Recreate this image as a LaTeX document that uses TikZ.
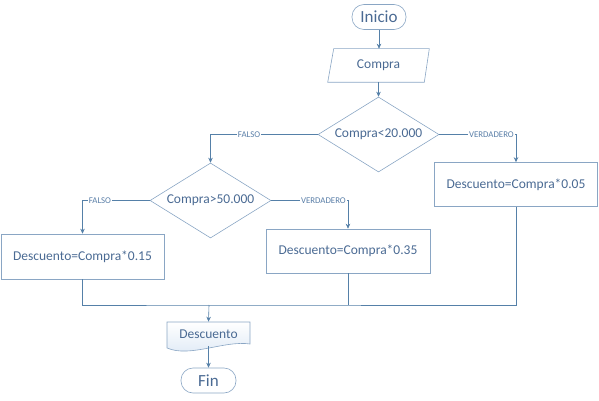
\documentclass[tikz,border=0pt]{standalone}
\usepackage{fontspec}
\setmainfont{Carlito}
\usetikzlibrary{shapes.geometric,arrows.meta}
\definecolor{edgecol}{HTML}{8AA6C4}
\definecolor{linecol}{HTML}{5580A8}
\definecolor{txtcol}{HTML}{4A6A93}
\definecolor{lblcol}{HTML}{5A7FA8}
\definecolor{docfill}{HTML}{DCE8F5}
\tikzset{
  base/.style={draw=edgecol, line width=0.6pt, text=txtcol, font=\fontsize{13.5}{15}\selectfont, inner sep=0pt},
  termbox/.style={base, rectangle, rounded corners=12pt, font=\fontsize{17}{19}\selectfont},
  procbox/.style={base, rectangle},
  decbox/.style={base, diamond, aspect=1.6},
  conn/.style={draw=linecol, line width=0.6pt},
  arr/.style={conn, -{Stealth[length=5pt,width=4.5pt]}},
  lbl/.style={fill=white, text=lblcol, font=\fontsize{8.8}{9}\selectfont, inner sep=0.8pt}
}
\begin{document}
\begin{tikzpicture}[x=1pt,y=-1pt]
\useasboundingbox (0,0) rectangle (599,401);
% nodes
\node[termbox, minimum width=54pt, minimum height=25pt] (ini) at (379,17) {Inicio};
\node[base, draw=none, minimum width=101pt, minimum height=33pt] (cmp) at (378.5,65.5) {Compra};
\draw[edgecol, line width=0.6pt] ([xshift=6pt]cmp.north west) -- (cmp.north east) -- ([xshift=-5pt]cmp.south east) -- (cmp.south west) -- cycle;
\node[decbox, minimum width=121pt, minimum height=75pt] (d1) at (378.5,134.5) {Compra<20.000};
\node[decbox, minimum width=121pt, minimum height=75pt] (d2) at (210.5,200.5) {Compra>50.000};
\node[procbox, minimum width=163pt, minimum height=44pt] (b3) at (516,184.5) {Descuento=Compra*0.05};
\node[procbox, minimum width=163pt, minimum height=45pt] (b1) at (82.5,256.5) {Descuento=Compra*0.15};
\node[procbox, minimum width=164pt, minimum height=44pt] (b2) at (348,251) {Descuento=Compra*0.35};
% document shape
\shade[top color=white, bottom color=docfill, draw=edgecol, line width=0.6pt]
  (167,322) -- (250,322) -- (250,344) .. controls (225,340) and (190,358) .. (167,348) -- cycle;
\node[base, draw=none, minimum width=83pt, minimum height=24pt] (doc) at (208.5,334) {Descuento};
\node[termbox, minimum width=55pt, minimum height=25pt] (fin) at (208.5,380.5) {Fin};
% connectors
\draw[arr] (ini.south) -- (cmp.north -| ini.south);
\draw[arr] (cmp.south -| d1.north) -- (d1.north);
\draw[arr] (d1.west) -| node[lbl, pos=0.32] {FALSO} (d2.north);
\draw[arr] (d1.east) -| node[lbl, pos=0.34] {VERDADERO} (b3.north);
\draw[arr] (d2.west) -| node[lbl, pos=0.37] {FALSO} (b1.north);
\draw[arr] (d2.east) -| node[lbl, pos=0.34] {VERDADERO} (b2.north);
\coordinate (join) at (209,305);
\draw[conn] (b1.south) |- (join) -| (b3.south);
\draw[conn] (b2.south) -- (b2.south |- join);
\draw[arr] (join) -- (doc.north);
\draw[arr] (doc.south) -- (fin.north);
\end{tikzpicture}
\end{document}
